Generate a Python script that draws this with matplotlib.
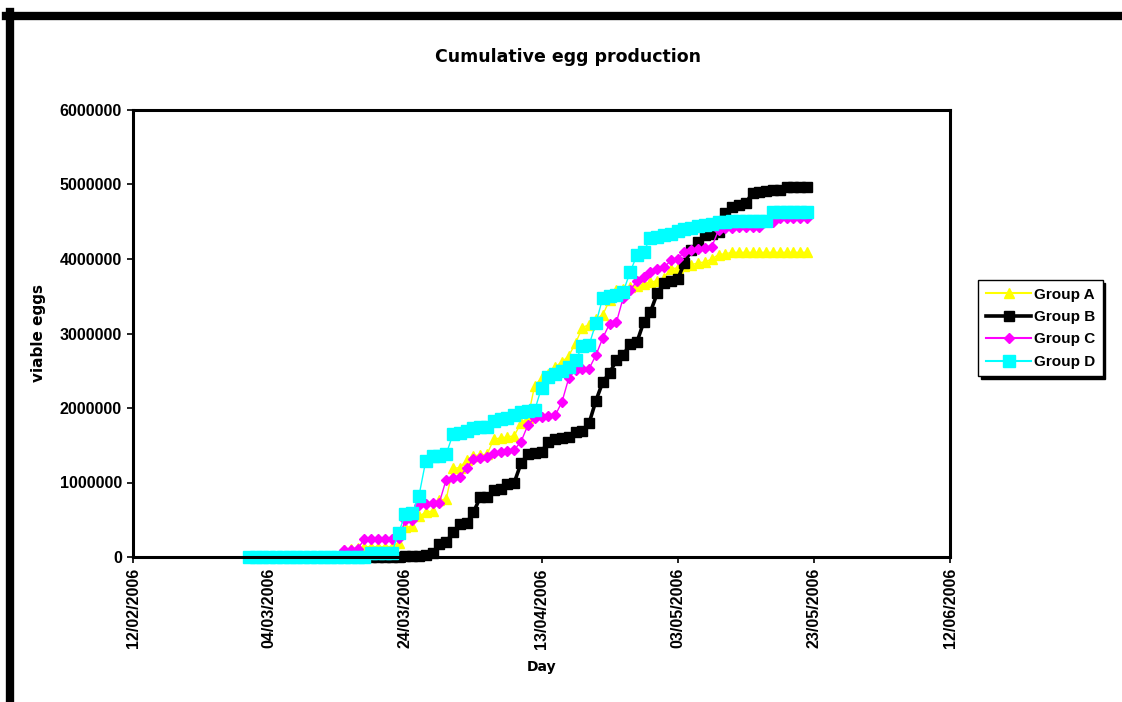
import matplotlib
matplotlib.use('Agg')
import matplotlib.pyplot as plt
import matplotlib.dates as mdates
import pandas as pd
from matplotlib.lines import Line2D

# ── data (daily cumulative viable eggs, 01/03/2006 – 22/05/2006) ─────────────
start_day = '2006-03-01'
end_day = '2006-05-22'

group_a = [0, 0, 0, 0, 0, 0, 0, 0, 0, 0, 0, 0, 0, 0,
           100000, 110000, 120000, 140000, 140000, 140000, 140000, 140000,
           190000, 400000, 410000, 550000, 600000, 620000, 760000, 780000, 1190000, 1200000,
           1300000, 1360000, 1370000, 1380000, 1580000, 1600000, 1610000, 1630000, 1800000, 1870000,
           2300000, 2400000, 2450000, 2550000, 2620000, 2700000, 2870000, 3080000, 3120000, 3200000,
           3250000, 3450000, 3580000, 3600000, 3620000, 3640000, 3660000, 3690000, 3710000, 3750000,
           3870000, 3880000, 3900000, 3920000, 3950000, 3960000, 4000000, 4060000, 4070000, 4090000,
           4090000, 4090000, 4090000, 4090000, 4090000, 4090000, 4090000, 4090000, 4090000, 4090000, 4090000]

group_b = [0, 0, 0, 0, 0, 0, 0, 0, 0, 0, 0, 0, 0, 0, 0, 0, 0, 0, 0, 0, 0, 0,
           5000, 8000, 12000, 20000, 30000, 50000, 180000, 200000, 330000, 440000,
           460000, 600000, 800000, 810000, 900000, 910000, 980000, 1000000, 1260000, 1380000,
           1400000, 1410000, 1550000, 1580000, 1600000, 1610000, 1680000, 1690000, 1800000, 2100000,
           2350000, 2470000, 2640000, 2710000, 2860000, 2880000, 3150000, 3290000, 3540000, 3680000,
           3710000, 3730000, 3950000, 4120000, 4230000, 4320000, 4330000, 4360000, 4620000, 4700000,
           4720000, 4750000, 4890000, 4900000, 4910000, 4920000, 4930000, 4960000, 4960000, 4970000, 4970000]

group_c = [0, 0, 0, 0, 0, 0, 0, 0, 0, 0, 0, 0, 0, 0,
           90000, 100000, 110000, 240000, 240000, 240000, 240000, 240000,
           250000, 490000, 500000, 700000, 710000, 720000, 730000, 1040000, 1060000, 1070000,
           1200000, 1310000, 1330000, 1340000, 1400000, 1410000, 1420000, 1440000, 1550000, 1770000,
           1870000, 1880000, 1890000, 1900000, 2080000, 2400000, 2510000, 2520000, 2530000, 2710000,
           2940000, 3130000, 3150000, 3480000, 3580000, 3700000, 3760000, 3820000, 3870000, 3890000,
           3980000, 4000000, 4100000, 4120000, 4140000, 4150000, 4160000, 4390000, 4410000, 4420000,
           4430000, 4430000, 4430000, 4430000, 4490000, 4500000, 4550000, 4550000, 4550000, 4550000, 4550000]

group_d = [0, 0, 0, 0, 0, 0, 0, 0, 0, 0, 0, 0, 0, 0, 0, 0, 0, 0,
           50000, 50000, 50000, 50000,
           320000, 580000, 590000, 820000, 1290000, 1350000, 1360000, 1380000, 1650000, 1670000,
           1690000, 1730000, 1740000, 1750000, 1830000, 1850000, 1870000, 1900000, 1950000, 1960000,
           1970000, 2270000, 2420000, 2460000, 2500000, 2550000, 2640000, 2830000, 2850000, 3140000,
           3480000, 3500000, 3520000, 3560000, 3820000, 4050000, 4100000, 4280000, 4300000, 4320000,
           4340000, 4370000, 4400000, 4420000, 4440000, 4450000, 4470000, 4490000, 4500000, 4510000,
           4510000, 4510000, 4510000, 4510000, 4510000, 4630000, 4630000, 4630000, 4630000, 4630000, 4630000]

labels = ['Group A', 'Group B', 'Group C', 'Group D']
colors = ['#FFFF00', '#000000', '#FF00FF', '#00FFFF']
markers = ['^', 's', 'D', 's']

tick_dates = ['2006-02-12', '2006-03-04', '2006-03-24', '2006-04-13',
              '2006-05-03', '2006-05-23', '2006-06-12']
y_ticks = [0, 1000000, 2000000, 3000000, 4000000, 5000000, 6000000]

days = pd.date_range(start_day, end_day, freq='D')

# ── figure ───────────────────────────────────────────────────────────────────
W, H = 1122, 702
fig = plt.figure(figsize=(W / 100, H / 100), dpi=100)
ax = fig.add_axes([133 / W, 1 - 557 / H, 817 / W, 447 / H])

styles = [dict(lw=1.0, ms=7.5), dict(lw=2.6, ms=7.5),
          dict(lw=1.0, ms=5.5), dict(lw=1.0, ms=8)]
for vals, lab, col, mk, st in zip([group_a, group_b, group_c, group_d],
                                  labels, colors, markers, styles):
    ax.plot(days, vals, color=col, marker=mk, markersize=st['ms'],
            markeredgecolor=col, linewidth=st['lw'], label=lab, clip_on=False)

ax.set_xlim(pd.Timestamp('2006-02-12'), pd.Timestamp('2006-06-12'))
ax.set_ylim(0, 6000000)
ax.set_xticks(pd.to_datetime(tick_dates))
ax.xaxis.set_major_formatter(mdates.DateFormatter('%d/%m/%Y'))
ax.set_yticks(y_ticks)
ax.set_yticklabels([str(v) for v in y_ticks])

tick_font = dict(family='Liberation Sans', weight='bold', size=11.5)
for t in ax.get_xticklabels():
    t.set(rotation=90, **tick_font)
for t in ax.get_yticklabels():
    t.set(**tick_font)
ax.tick_params(axis='both', direction='out', length=4, width=1.2, pad=4)

for sp in ax.spines.values():
    sp.set_linewidth(2.2)

fig.text(568 / W, 1 - 57 / H, 'Cumulative egg production', fontsize=12.5,
         fontweight='bold', family='DejaVu Sans', ha='center', va='center')
ax.set_xlabel('Day', fontsize=10, fontweight='bold', family='DejaVu Sans', labelpad=8)
ax.set_ylabel('viable eggs', fontsize=11, fontweight='bold', family='DejaVu Sans', labelpad=10)

leg = ax.legend(loc='upper left', bbox_to_anchor=(978 / W, 1 - 280 / H),
                bbox_transform=fig.transFigure, borderaxespad=0,
                prop=dict(family='Liberation Sans', weight='bold', size=11),
                frameon=True, fancybox=False, edgecolor='black',
                shadow={'color': 'black', 'alpha': 1.0},
                handlelength=3.0, handletextpad=0.15, labelspacing=0.55,
                borderpad=0.5)
leg.get_frame().set_linewidth(1.0)
for h, lab in zip(leg.legend_handles, labels):
    h.set_linewidth(2.6 if lab == 'Group B' else 1.5)

# chart-area border (thick black edge along top and left)
fig.add_artist(Line2D([6 / W, 1.0], [1 - 16 / H, 1 - 16 / H],
                      transform=fig.transFigure, color='black', linewidth=6))
fig.add_artist(Line2D([10 / W, 10 / W], [0.0, 1 - 12 / H],
                      transform=fig.transFigure, color='black', linewidth=6))

fig.savefig('out.png', dpi=100)
